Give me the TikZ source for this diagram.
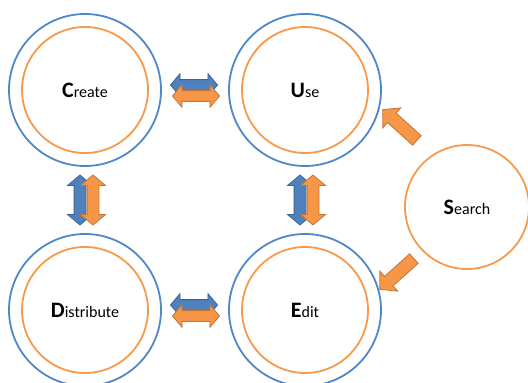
\documentclass[tikz,border=0pt]{standalone}
\usepackage{fontspec}
\setmainfont{Carlito}
\usepackage{tikz}
\usetikzlibrary{calc}
\usetikzlibrary{shapes.arrows}
\definecolor{ringblue}{HTML}{5087C7}
\definecolor{ringorange}{HTML}{F79A4C}
\definecolor{fillblue}{HTML}{4F81BD}
\definecolor{lineblue}{HTML}{3A6598}
\definecolor{fillorange}{HTML}{F79646}
\definecolor{lineorange}{HTML}{C0753A}
\tikzstyle{outer}=[circle,draw=ringblue,line width=1.8pt,minimum size=152pt,inner sep=0pt]
\tikzstyle{inner}=[circle,draw=ringorange,line width=1.8pt,minimum size=126pt,inner sep=0pt]
\tikzstyle{lone}=[circle,draw=ringorange,line width=1.8pt,minimum size=124pt,inner sep=0pt]
\tikzstyle{twoway}=[double arrow,double arrow head extend=6pt,double arrow tip angle=100,inner xsep=0pt,inner ysep=5pt,text height=0pt,text depth=0pt,minimum height=47pt,line width=0.8pt]
\tikzstyle{oneway}=[single arrow,single arrow head extend=7pt,single arrow tip angle=95,inner xsep=0pt,inner ysep=6pt,text height=0pt,text depth=0pt,minimum height=46pt,line width=0.8pt,fill=fillorange,draw=lineorange]
\tikzstyle{bluearr}=[twoway,fill=fillblue,draw=lineblue]
\tikzstyle{orangearr}=[twoway,fill=fillorange,draw=lineorange]
\tikzstyle{upright}=[rotate=90,minimum height=50pt,inner ysep=5.5pt,double arrow head extend=6.5pt]
\newcommand{\word}[2]{{\fontsize{22}{22}\selectfont\bfseries #1}{\fontsize{16}{16}\selectfont #2}}

\begin{document}
\begin{tikzpicture}[x=1pt,y=-1pt]
	\useasboundingbox (0,0) rectangle (528,383);
	\coordinate (C) at (85,90);
	\coordinate (U) at (305,90);
	\coordinate (D) at (85,310);
	\coordinate (E) at (305,310);
	\coordinate (S) at (467,207);

	% rings
	\node[inner] (create-in) at (C) {};
	\node[inner] (use-in) at (U) {};
	\node[inner] (distribute-in) at (D) {};
	\node[inner] (edit-in) at (E) {};
	\node[outer] (create) at (C) {\word{C}{reate}};
	\node[outer] (use) at (U) {\word{U}{se}};
	\node[outer] (distribute) at (D) {\word{D}{istribute}};
	\node[outer] (edit) at (E) {\word{E}{dit}};
	\node[lone] (search) at (S) {\word{S}{earch}};

	% two-way arrows
	\node[bluearr] (cu-b) at ($(create)!0.5!(use)+(-1,-5)$) {};
	\node[orangearr] (cu-o) at ($(create)!0.5!(use)+(1,6)$) {};
	\node[bluearr] (de-b) at ($(distribute)!0.5!(edit)+(-1,-5)$) {};
	\node[orangearr] (de-o) at ($(distribute)!0.5!(edit)+(1,6)$) {};
	\node[bluearr,upright] (cd-b) at ($(create)!0.5!(distribute)+(-5,0)$) {};
	\node[orangearr,upright] (cd-o) at ($(create)!0.5!(distribute)+(8,0)$) {};
	\node[bluearr,upright] (ue-b) at ($(use)!0.5!(edit)+(-5,0)$) {};
	\node[orangearr,upright] (ue-o) at ($(use)!0.5!(edit)+(8,0)$) {};

	% from search
	\node[oneway,rotate=138] (su) at (402,127) {};
	\node[oneway,rotate=222] (se) at (399,272) {};
\end{tikzpicture}
\end{document}
